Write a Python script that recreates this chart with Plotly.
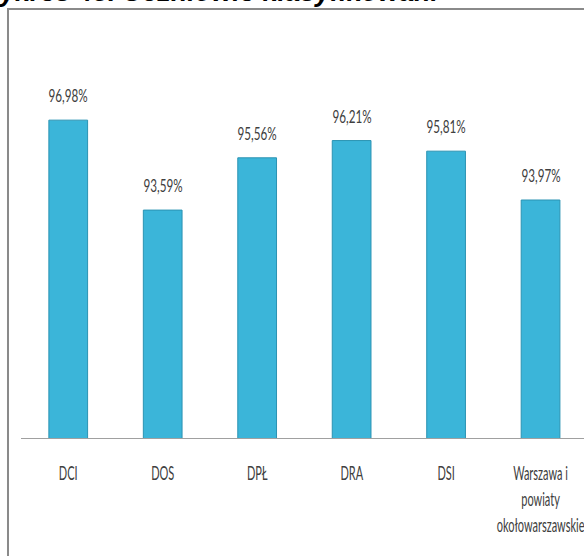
import plotly.graph_objects as go

# dane z wykresu
categories = ['DCI', 'DOS', 'DPŁ', 'DRA', 'DSI', 'Warszawa i<br>powiaty<br>okołowarszawskie']
values = [96.98, 93.59, 95.56, 96.21, 95.81, 93.97]
value_labels = ['96,98%', '93,59%', '95,56%', '96,21%', '95,81%', '93,97%']
title_text = 'Wykres 43. Uczniowie klasyfikowani'

label_font = 'Lato, Roboto, sans-serif'

# zwężenie napisów (w oryginale wąski Calibri) + brak marginesu body
squeeze_js = """
var gd = document.getElementById('{plot_id}');
function squeeze(sel, s) {
  gd.querySelectorAll(sel).forEach(function(t) {
    if (t.textContent.indexOf('Wykres') >= 0) return;
    var b = t.getBBox();
    var cx = b.x + b.width / 2;
    var tr = t.getAttribute('transform') || '';
    t.setAttribute('transform', tr + ' translate(' + cx + ',0) scale(' + s + ',1) translate(' + (-cx) + ',0)');
  });
}
squeeze('.xtick text', 0.55);
squeeze('.annotation-text', 0.65);
document.body.style.margin = '0';
"""


def create_bar_chart():
    fig = go.Figure(data=[go.Bar(
        x=categories,
        y=values,
        width=0.41,
        marker=dict(
            color='#3BB5D9',
            line=dict(color='#2B93B3', width=1)
        ),
        hoverinfo='skip'
    )])

    # etykiety wartości nad słupkami
    annotations = []
    for cat, val, lab in zip(categories, values, value_labels):
        annotations.append(dict(
            x=cat, y=val, text=lab, showarrow=False,
            yshift=25, font=dict(size=18, color='#404040', family=label_font)
        ))

    # tytuł ucięty u góry
    annotations.append(dict(
        x=-0.0853, y=1.121, xref='paper', yref='paper',
        xanchor='left', yanchor='middle', text='<b><i>' + title_text + '</i></b>',
        showarrow=False, font=dict(size=27, color='#000000', family='Liberation Sans, Arial')
    ))

    fig.update_xaxes(
        range=[-0.5, 5.46],
        showline=True,
        linecolor='#A0A0A0',
        linewidth=1,
        ticks='',
        tickangle=0,
        ticklabelstandoff=17,
        tickfont=dict(size=20, color='#404040', family=label_font),
        showgrid=False,
        automargin=False
    )

    fig.update_yaxes(
        range=[85, 100],
        visible=False,
        showgrid=False,
        automargin=False
    )

    fig.update_layout(
        width=584,
        height=556,
        margin=dict(l=21, r=0, t=40, b=118),
        plot_bgcolor='white',
        paper_bgcolor='white',
        showlegend=False,
        annotations=annotations,
        shapes=[dict(
            type='rect', xref='paper', yref='paper',
            x0=-0.0231, x1=1.2, y0=-0.6, y1=1.078,
            line=dict(color='#8A8A8A', width=2)
        )]
    )
    return fig


fig = create_bar_chart()
fig.write_html('out.html', post_script=squeeze_js, config={'displayModeBar': False})
